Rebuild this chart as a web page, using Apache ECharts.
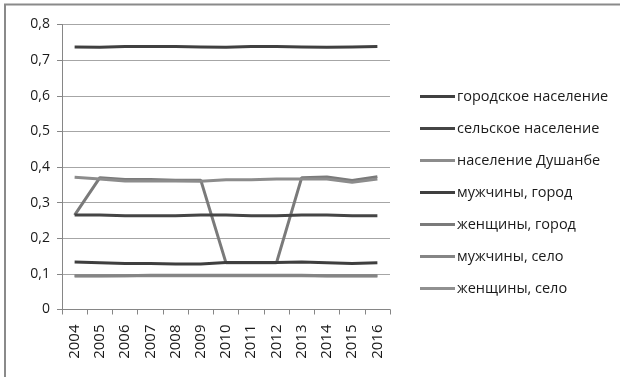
<!DOCTYPE html>
<html>
<head>
<meta charset="utf-8">
<script src="https://cdn.jsdelivr.net/npm/echarts@6/dist/echarts.min.js"></script>
<style>
  html, body { margin: 0; padding: 0; background: #fff; }
  #chart { width: 620px; height: 377px; }
</style>
</head>
<body>
<div id="chart"></div>
<script>
var years = ['2004','2005','2006','2007','2008','2009','2010','2011','2012','2013','2014','2015','2016'];
var yTicks = ['0','0,1','0,2','0,3','0,4','0,5','0,6','0,7','0,8'];

var urban      = [0.737,0.736,0.738,0.738,0.738,0.737,0.736,0.738,0.738,0.737,0.736,0.737,0.738];
var rural      = [0.265,0.265,0.263,0.263,0.263,0.265,0.265,0.263,0.263,0.265,0.265,0.263,0.263];
var dushanbe   = [0.371,0.366,0.361,0.361,0.361,0.360,0.364,0.364,0.366,0.366,0.366,0.357,0.366];
var menCity    = [0.133,0.131,0.129,0.129,0.128,0.128,0.132,0.132,0.132,0.133,0.131,0.129,0.131];
var womenCity  = [0.265,0.370,0.365,0.365,0.363,0.363,0.131,0.131,0.131,0.370,0.372,0.362,0.373];
var menVillage = [0.095,0.095,0.095,0.096,0.096,0.096,0.096,0.096,0.096,0.096,0.095,0.095,0.095];
var womenVillage = [0.094,0.094,0.095,0.095,0.095,0.095,0.095,0.095,0.095,0.095,0.094,0.094,0.094];

var names = ['городское население','сельское население','население Душанбе','мужчины, город','женщины, город','мужчины, село','женщины, село'];
var colors = ['#404040','#454545','#8c8c8c','#3f3f3f','#7a7a7a','#858585','#909090'];
var datas = [urban, rural, dushanbe, menCity, womenCity, menVillage, womenVillage];

var font = 'Open Sans';
var chart = echarts.init(document.getElementById('chart'));

var series = datas.map(function(d, i) {
  return {
    name: names[i],
    type: 'line',
    data: d,
    symbol: 'none',
    color: colors[i],
    lineStyle: { width: 3, color: colors[i] },
    z: 10 - i
  };
});

chart.setOption({
  animation: false,
  graphic: [{
    type: 'polyline',
    shape: { points: [[5, 380], [5, 4.5], [625, 4.5]] },
    style: { stroke: '#8a8a8a', lineWidth: 2, fill: null },
    silent: true
  }],
  legend: {
    orient: 'vertical',
    left: 415,
    top: 84,
    itemGap: 17,
    itemWidth: 35,
    itemHeight: 3,
    icon: 'rect',
    textStyle: { fontFamily: font, fontSize: 14.5, color: '#1a1a1a', padding: [0, 0, 0, -3] },
    data: names
  },
  grid: { left: 62, right: 230, top: 24.5, bottom: 67.5, containLabel: false },
  xAxis: {
    type: 'category',
    data: years,
    boundaryGap: true,
    axisLine: { lineStyle: { color: '#868686', width: 1 } },
    axisTick: { show: true, length: 5, lineStyle: { color: '#868686' } },
    axisLabel: { rotate: 90, fontFamily: font, fontSize: 15, color: '#1a1a1a', margin: 15, interval: 0 }
  },
  yAxis: {
    type: 'value',
    min: 0,
    max: 0.8,
    interval: 0.1,
    axisLine: { show: true, lineStyle: { color: '#868686', width: 1 } },
    axisTick: { show: true, length: 5, lineStyle: { color: '#868686' } },
    splitLine: { lineStyle: { color: '#a6a6a6', width: 1 } },
    axisLabel: {
      fontFamily: font, fontSize: 14, color: '#1a1a1a', margin: 12,
      formatter: function(v) { return yTicks[Math.round(v * 10)]; }
    }
  },
  series: series
});
</script>
</body>
</html>
